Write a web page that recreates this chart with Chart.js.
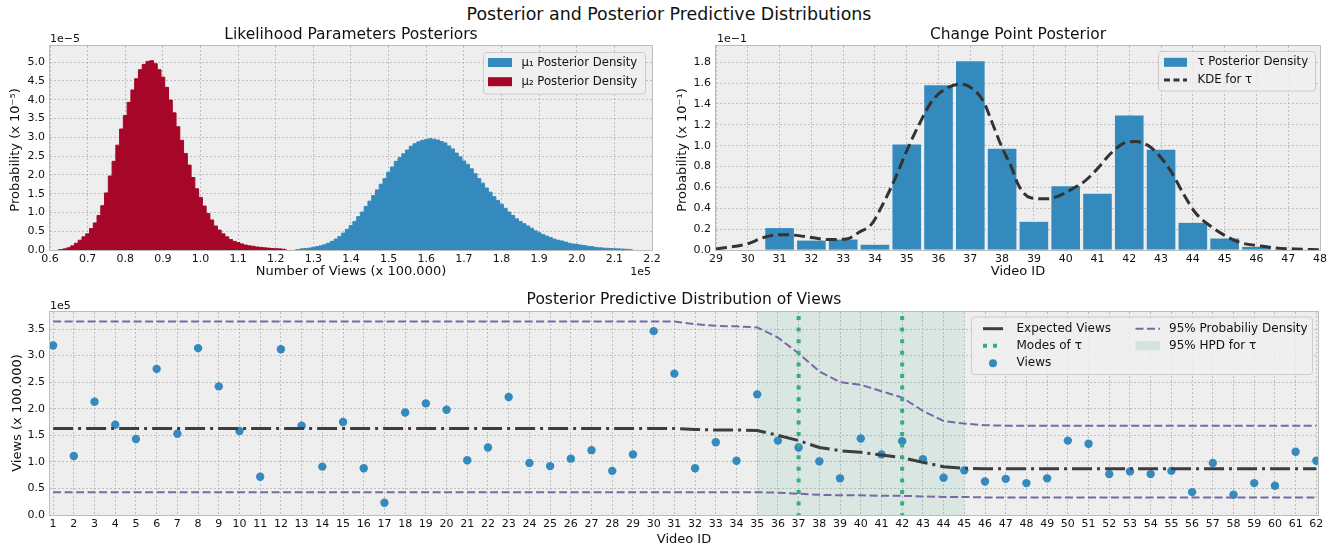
<!DOCTYPE html>
<html>
<head>
<meta charset="utf-8">
<script src="https://cdn.jsdelivr.net/npm/chart.js@4.4.1/dist/chart.umd.min.js"></script>
<style>
body { margin: 0; background: #fff; font-family: 'DejaVu Sans', sans-serif; }
#wrap { position: relative; width: 1338px; height: 550px; overflow: hidden; }
#wrap canvas { position: absolute; }
#title { position: absolute; top: 3px; left: 0; width: 1338px; text-align: center;
         font-size: 17.4px; line-height: 22px; color: #111; }
</style>
</head>
<body>
<div id="wrap">
  <div id="title">Posterior and Posterior Predictive Distributions</div>
  <canvas id="muChart" width="670" height="266" style="left:0;top:24px"></canvas>
  <canvas id="tauChart" width="668" height="266" style="left:670px;top:24px"></canvas>
  <canvas id="viewsChart" width="1338" height="260" style="left:0;top:290px"></canvas>
</div>
<script>
// ---- data: likelihood parameter posteriors (views in 1e5, density in 1e-5) ----
const mu1Bins = [1.25, 1.26, 1.27, 1.28, 1.29, 1.30, 1.31, 1.32, 1.33, 1.34, 1.35, 1.36, 1.37, 1.38, 1.39,
  1.40, 1.41, 1.42, 1.43, 1.44, 1.45, 1.46, 1.47, 1.48, 1.49, 1.50, 1.51, 1.52, 1.53, 1.54,
  1.55, 1.56, 1.57, 1.58, 1.59, 1.60, 1.61, 1.62, 1.63, 1.64, 1.65, 1.66, 1.67, 1.68, 1.69,
  1.70, 1.71, 1.72, 1.73, 1.74, 1.75, 1.76, 1.77, 1.78, 1.79, 1.80, 1.81, 1.82, 1.83, 1.84,
  1.85, 1.86, 1.87, 1.88, 1.89, 1.90, 1.91, 1.92, 1.93, 1.94, 1.95, 1.96, 1.97, 1.98, 1.99,
  2.00, 2.01, 2.02, 2.03, 2.04, 2.05, 2.06, 2.07, 2.08, 2.09, 2.10, 2.11, 2.12, 2.13, 2.14, 2.15];
const mu1Density = [0, 0.01, 0.03, 0.04, 0.05, 0.07, 0.09, 0.11, 0.14, 0.18, 0.23, 0.29, 0.36, 0.45, 0.55,
  0.65, 0.76, 0.89, 1.01, 1.16, 1.30, 1.45, 1.60, 1.75, 1.90, 2.07, 2.21, 2.36, 2.46, 2.56,
  2.66, 2.76, 2.83, 2.88, 2.92, 2.94, 2.96, 2.95, 2.93, 2.89, 2.85, 2.77, 2.69, 2.58, 2.48,
  2.37, 2.28, 2.16, 2.03, 1.90, 1.78, 1.65, 1.54, 1.42, 1.32, 1.22, 1.11, 1.01, 0.92, 0.83,
  0.76, 0.70, 0.64, 0.58, 0.51, 0.46, 0.41, 0.37, 0.33, 0.29, 0.26, 0.24, 0.21, 0.18, 0.16,
  0.15, 0.13, 0.12, 0.10, 0.09, 0.07, 0.06, 0.05, 0.045, 0.04, 0.035, 0.03, 0.025, 0.02, 0.015, 0];

const mu2Bins = [0.62, 0.63, 0.64, 0.65, 0.66, 0.67, 0.68, 0.69, 0.70, 0.71, 0.72, 0.73, 0.74, 0.75, 0.76,
  0.77, 0.78, 0.79, 0.80, 0.81, 0.82, 0.83, 0.84, 0.85, 0.86, 0.87, 0.88, 0.89, 0.90, 0.91,
  0.92, 0.93, 0.94, 0.95, 0.96, 0.97, 0.98, 0.99, 1.00, 1.01, 1.02, 1.03, 1.04, 1.05, 1.06,
  1.07, 1.08, 1.09, 1.10, 1.11, 1.12, 1.13, 1.14, 1.15, 1.16, 1.17, 1.18, 1.19, 1.20, 1.21, 1.22, 1.23];
const mu2Density = [0, 0.01, 0.03, 0.06, 0.11, 0.18, 0.26, 0.35, 0.43, 0.57, 0.72, 0.92, 1.18, 1.52, 1.97,
  2.36, 2.79, 3.22, 3.58, 3.93, 4.26, 4.56, 4.80, 4.94, 5.02, 5.04, 4.96, 4.80, 4.60, 4.33,
  3.99, 3.65, 3.28, 2.92, 2.57, 2.26, 1.93, 1.63, 1.40, 1.17, 0.97, 0.80, 0.64, 0.53, 0.43,
  0.35, 0.28, 0.23, 0.20, 0.16, 0.13, 0.11, 0.10, 0.08, 0.07, 0.06, 0.05, 0.04, 0.035, 0.03, 0.02, 0];

const muXTicks = [0.6, 0.7, 0.8, 0.9, 1.0, 1.1, 1.2, 1.3, 1.4, 1.5, 1.6, 1.7, 1.8, 1.9, 2.0, 2.1, 2.2];
const muYTicks = [0, 0.5, 1.0, 1.5, 2.0, 2.5, 3.0, 3.5, 4.0, 4.5, 5.0];

// ---- data: change point posterior (probability in 1e-1) ----
const tauIds = [31, 32, 33, 34, 35, 36, 37, 38, 39, 40, 41, 42, 43, 44, 45, 46, 47];
const tauProb = [0.21, 0.09, 0.10, 0.05, 1.01, 1.58, 1.81, 0.97, 0.27, 0.61, 0.54, 1.29, 0.96, 0.26, 0.11, 0.03, 0.005];
const kdeX = [29, 30, 30.5, 31, 31.4, 32, 32.5, 33.1, 33.5, 33.9, 34.2, 34.6, 35, 35.4, 35.8, 36.2, 36.7,
  37, 37.4, 37.7, 38, 38.3, 38.5, 38.9, 39.4, 39.8, 40.2, 40.6, 41, 41.4, 41.8, 42.2, 42.6, 42.9,
  43.3, 43.7, 44.1, 44.6, 45, 45.5, 46.1, 46.6, 47.2, 48];
const kdeY = [0.01, 0.06, 0.12, 0.147, 0.144, 0.12, 0.10, 0.105, 0.17, 0.25, 0.41, 0.66, 0.95, 1.21, 1.43, 1.54, 1.59,
  1.56, 1.43, 1.21, 0.98, 0.79, 0.63, 0.50, 0.49, 0.52, 0.585, 0.66, 0.78, 0.92, 1.02, 1.04, 1.0, 0.92,
  0.76, 0.54, 0.35, 0.22, 0.14, 0.07, 0.04, 0.02, 0.01, 0.003];
const tauXTicks = [29, 30, 31, 32, 33, 34, 35, 36, 37, 38, 39, 40, 41, 42, 43, 44, 45, 46, 47, 48];
const tauYTicks = [0, 0.2, 0.4, 0.6, 0.8, 1.0, 1.2, 1.4, 1.6, 1.8];

// ---- data: posterior predictive of views (views in 1e5) ----
const videoIds = [1, 2, 3, 4, 5, 6, 7, 8, 9, 10, 11, 12, 13, 14, 15, 16, 17, 18, 19, 20, 21,
  22, 23, 24, 25, 26, 27, 28, 29, 30, 31, 32, 33, 34, 35, 36, 37, 38, 39, 40, 41,
  42, 43, 44, 45, 46, 47, 48, 49, 50, 51, 52, 53, 54, 55, 56, 57, 58, 59, 60, 61, 62];
const views = [3.19, 1.11, 2.13, 1.70, 1.43, 2.75, 1.53, 3.14, 2.42, 1.58, 0.72, 3.12, 1.68, 0.91, 1.75, 0.88, 0.23, 1.93, 2.10, 1.98, 1.03,
  1.27, 2.22, 0.98, 0.92, 1.06, 1.22, 0.83, 1.14, 3.46, 2.66, 0.88, 1.37, 1.02, 2.27, 1.40, 1.27, 1.01, 0.69, 1.44, 1.14,
  1.39, 1.05, 0.70, 0.84, 0.63, 0.68, 0.60, 0.69, 1.40, 1.34, 0.77, 0.82, 0.77, 0.83, 0.43, 0.98, 0.38, 0.60, 0.55, 1.19, 1.02];
const expectedViews = [1.63, 1.63, 1.63, 1.63, 1.63, 1.63, 1.63, 1.63, 1.63, 1.63, 1.63, 1.63, 1.63, 1.63, 1.63, 1.63, 1.63, 1.63, 1.63, 1.63, 1.63,
  1.63, 1.63, 1.63, 1.63, 1.63, 1.63, 1.63, 1.63, 1.63, 1.63, 1.61, 1.60, 1.60, 1.59, 1.50, 1.40, 1.27, 1.21, 1.18, 1.13,
  1.08, 0.99, 0.91, 0.88, 0.87, 0.87, 0.87, 0.87, 0.87, 0.87, 0.87, 0.87, 0.87, 0.87, 0.87, 0.87, 0.87, 0.87, 0.87, 0.87, 0.87];
const upper95 = [3.64, 3.64, 3.64, 3.64, 3.64, 3.64, 3.64, 3.64, 3.64, 3.64, 3.64, 3.64, 3.64, 3.64, 3.64, 3.64, 3.64, 3.64, 3.64, 3.64, 3.64,
  3.64, 3.64, 3.64, 3.64, 3.64, 3.64, 3.64, 3.64, 3.64, 3.64, 3.59, 3.56, 3.55, 3.53, 3.34, 3.04, 2.70, 2.50, 2.45, 2.33,
  2.21, 1.96, 1.77, 1.72, 1.69, 1.68, 1.68, 1.68, 1.68, 1.68, 1.68, 1.68, 1.68, 1.68, 1.68, 1.68, 1.68, 1.68, 1.68, 1.68, 1.68];
const lower95 = [0.43, 0.43, 0.43, 0.43, 0.43, 0.43, 0.43, 0.43, 0.43, 0.43, 0.43, 0.43, 0.43, 0.43, 0.43, 0.43, 0.43, 0.43, 0.43, 0.43, 0.43,
  0.43, 0.43, 0.43, 0.43, 0.43, 0.43, 0.43, 0.43, 0.43, 0.43, 0.43, 0.43, 0.43, 0.43, 0.42, 0.40, 0.38, 0.37, 0.37, 0.36,
  0.36, 0.35, 0.34, 0.34, 0.33, 0.33, 0.33, 0.33, 0.33, 0.33, 0.33, 0.33, 0.33, 0.33, 0.33, 0.33, 0.33, 0.33, 0.33, 0.33, 0.33];
const tauModes = [37, 42];
const tauHpd = [35, 45];
const viewsYTicks = [0, 0.5, 1.0, 1.5, 2.0, 2.5, 3.0, 3.5];

// colours (matplotlib bmh)
const BLUE = '#348ABD', RED = '#A60628', PURPLE = '#7A68A6', GREEN = '#35AB8A', DARK = '#3d3d3d';
const FONT = "'DejaVu Sans', sans-serif";

function xy(xs, ys) {
  return xs.map((x, i) => ({ x: x, y: ys[i] }));
}

// background, spines, titles, extra text, custom legend, spans and vertical lines
const decor = {
  id: 'decor',
  beforeDraw(chart, args, o) {
    const { ctx, chartArea: a } = chart;
    ctx.save();
    ctx.fillStyle = '#eeeeee';
    ctx.fillRect(a.left, a.top, a.right - a.left, a.bottom - a.top);
    ctx.restore();
  },
  beforeDatasetsDraw(chart, args, o) {
    if (!o.span) return;
    const { ctx, chartArea: a } = chart;
    const x = chart.scales.x;
    const x0 = x.getPixelForValue(o.span[0]), x1 = x.getPixelForValue(o.span[1]);
    ctx.save();
    ctx.fillStyle = 'rgba(53,171,138,0.11)';
    ctx.fillRect(x0, a.top, x1 - x0, a.bottom - a.top);
    ctx.restore();
  },
  afterDatasetsDraw(chart, args, o) {
    if (!o.vlines) return;
    const { ctx, chartArea: a } = chart;
    const x = chart.scales.x;
    ctx.save();
    ctx.beginPath();
    ctx.rect(a.left, a.top, a.right - a.left, a.bottom - a.top);
    ctx.clip();
    ctx.strokeStyle = GREEN;
    ctx.lineWidth = 4;
    ctx.setLineDash([4, 7.6]);
    o.vlines.forEach(v => {
      const px = x.getPixelForValue(v);
      ctx.beginPath();
      ctx.moveTo(px, a.top + 4);
      ctx.lineTo(px, a.bottom);
      ctx.stroke();
    });
    ctx.restore();
  },
  afterDraw(chart, args, o) {
    const { ctx, chartArea: a } = chart;
    ctx.save();
    ctx.strokeStyle = '#bcbcbc';
    ctx.lineWidth = 1;
    ctx.strokeRect(a.left - 0.5, a.top - 0.5, a.right - a.left + 1, a.bottom - a.top + 1);

    ctx.fillStyle = '#111';
    ctx.textBaseline = 'middle';
    (o.texts || []).forEach(t => {
      ctx.font = t.size + 'px ' + FONT;
      ctx.textAlign = t.align || 'center';
      if (t.rotate) {
        ctx.save();
        ctx.translate(t.x, t.y);
        ctx.rotate(-Math.PI / 2);
        ctx.fillText(t.text, 0, 0);
        ctx.restore();
      } else {
        ctx.fillText(t.text, t.x, t.y);
      }
    });

    const L = o.legend;
    if (L) {
      ctx.beginPath();
      ctx.roundRect(L.box[0], L.box[1], L.box[2], L.box[3], 3);
      ctx.fillStyle = 'rgba(238,238,238,0.85)';
      ctx.fill();
      ctx.strokeStyle = '#cccccc';
      ctx.lineWidth = 1;
      ctx.stroke();
      L.items.forEach(it => {
        ctx.save();
        if (it.kind === 'patch') {
          ctx.fillStyle = it.color;
          ctx.fillRect(it.x0, it.y - 4.5, it.x1 - it.x0, 9);
        } else if (it.kind === 'line') {
          ctx.strokeStyle = it.color;
          ctx.lineWidth = it.width;
          ctx.setLineDash(it.dash || []);
          ctx.beginPath();
          ctx.moveTo(it.x0, it.y);
          ctx.lineTo(it.x1, it.y);
          ctx.stroke();
        } else if (it.kind === 'dot') {
          ctx.fillStyle = it.color;
          ctx.beginPath();
          ctx.arc((it.x0 + it.x1) / 2, it.y, 4, 0, Math.PI * 2);
          ctx.fill();
        }
        ctx.restore();
        ctx.fillStyle = '#111';
        ctx.font = L.size + 'px ' + FONT;
        ctx.textAlign = 'left';
        ctx.fillText(it.label, it.tx, it.y);
      });
    }
    ctx.restore();
  }
};

function tickList(list) {
  return scale => { scale.ticks = list.map(v => ({ value: v })); };
}

function axis(opts) {
  return {
    type: 'linear',
    min: opts.min,
    max: opts.max,
    offset: false,
    afterBuildTicks: tickList(opts.ticks),
    afterFit: opts.fit,
    grid: { color: '#b2b2b2', lineWidth: 0.8, drawTicks: false, offset: false },
    border: { display: false, dash: [2, 2] },
    ticks: {
      autoSkip: false, maxRotation: 0, minRotation: 0,
      padding: opts.pad, color: '#111',
      font: { family: FONT, size: 11 },
      callback: opts.fmt
    }
  };
}

const fmt1 = v => v.toFixed(1);

// top-left chart
new Chart(document.getElementById('muChart'), {
  type: 'line',
  data: {
    datasets: [
      {
        label: 'mu1', data: xy(mu1Bins, mu1Density), stepped: 'middle',
        fill: 'origin', backgroundColor: BLUE, borderColor: BLUE, borderWidth: 1, pointRadius: 0
      },
      {
        label: 'mu2', data: xy(mu2Bins, mu2Density), stepped: 'middle',
        fill: 'origin', backgroundColor: RED, borderColor: RED, borderWidth: 1, pointRadius: 0
      }
    ]
  },
  options: {
    responsive: false,
    animation: false,
    layout: { padding: { left: 0, right: 18, top: 22, bottom: 0 } },
    scales: {
      x: axis({ min: 0.6, max: 2.2, ticks: muXTicks, fmt: fmt1, pad: 3, fit: s => { s.height = 40; } }),
      y: axis({ min: 0, max: 5.43, ticks: muYTicks, fmt: fmt1, pad: 5, fit: s => { s.width = 50; } })
    },
    plugins: {
      legend: { display: false },
      tooltip: { enabled: false },
      decor: {
        texts: [
          { text: 'Likelihood Parameters Posteriors', x: 351, y: 11, size: 15.5 },
          { text: 'Number of Views (x 100.000)', x: 351, y: 248, size: 13 },
          { text: 'Probability (x 10⁻⁵)', x: 16, y: 126, size: 13, rotate: true },
          { text: '1e−5', x: 50, y: 15, size: 11, align: 'left' },
          { text: '1e5', x: 651, y: 248, size: 11, align: 'right' }
        ],
        legend: {
          size: 11.7,
          box: [483.5, 28.5, 162, 41.5],
          items: [
            { kind: 'patch', color: BLUE, x0: 488, x1: 512, y: 38.5, tx: 521.5, label: 'μ₁ Posterior Density' },
            { kind: 'patch', color: RED, x0: 488, x1: 512, y: 57.7, tx: 521.5, label: 'μ₂ Posterior Density' }
          ]
        }
      }
    }
  },
  plugins: [decor]
});

// top-right chart
new Chart(document.getElementById('tauChart'), {
  type: 'bar',
  data: {
    datasets: [
      {
        type: 'line', label: 'KDE', data: xy(kdeX, kdeY), borderColor: '#333333',
        borderWidth: 3, borderDash: [11, 5], pointRadius: 0, cubicInterpolationMode: 'monotone', fill: false
      },
      {
        type: 'bar', label: 'tau', data: xy(tauIds, tauProb), backgroundColor: BLUE,
        barPercentage: 0.9, categoryPercentage: 1.0, borderWidth: 0
      }
    ]
  },
  options: {
    responsive: false,
    animation: false,
    layout: { padding: { left: 0, right: 18, top: 22, bottom: 0 } },
    scales: {
      x: axis({ min: 29, max: 48, ticks: tauXTicks, fmt: v => String(v), pad: 3, fit: s => { s.height = 40; } }),
      y: axis({ min: 0, max: 1.955, ticks: tauYTicks, fmt: fmt1, pad: 5, fit: s => { s.width = 46; } })
    },
    plugins: {
      legend: { display: false },
      tooltip: { enabled: false },
      decor: {
        texts: [
          { text: 'Change Point Posterior', x: 348, y: 11, size: 15.5 },
          { text: 'Video ID', x: 348, y: 248, size: 13 },
          { text: 'Probability (x 10⁻¹)', x: 13, y: 126, size: 13, rotate: true },
          { text: '1e−1', x: 47, y: 15, size: 11, align: 'left' }
        ],
        legend: {
          size: 11.7,
          box: [488.5, 27.5, 157, 39.5],
          items: [
            { kind: 'patch', color: BLUE, x0: 494, x1: 517, y: 38.3, tx: 527.5, label: 'τ Posterior Density' },
            { kind: 'line', color: '#333333', width: 3, dash: [6, 3.5], x0: 494, x1: 517, y: 56, tx: 527.5, label: 'KDE for τ' }
          ]
        }
      }
    }
  },
  plugins: [decor]
});

// bottom chart
new Chart(document.getElementById('viewsChart'), {
  type: 'line',
  data: {
    datasets: [
      {
        label: 'upper', data: xy(videoIds, upper95), borderColor: PURPLE, borderWidth: 2,
        borderDash: [8, 3.5], pointRadius: 0, fill: false, tension: 0
      },
      {
        label: 'lower', data: xy(videoIds, lower95), borderColor: PURPLE, borderWidth: 2,
        borderDash: [8, 3.5], pointRadius: 0, fill: false, tension: 0
      },
      {
        label: 'expected', data: xy(videoIds, expectedViews), borderColor: DARK, borderWidth: 3,
        borderDash: [20, 5, 3, 5], pointRadius: 0, fill: false, tension: 0
      },
      {
        label: 'views', data: xy(videoIds, views), showLine: false, pointRadius: 4.2,
        pointBackgroundColor: BLUE, pointBorderWidth: 0, backgroundColor: BLUE, borderColor: BLUE
      }
    ]
  },
  options: {
    responsive: false,
    animation: false,
    layout: { padding: { left: 0, right: 20, top: 22, bottom: 0 } },
    scales: {
      x: axis({ min: 0.85, max: 62.08, ticks: videoIds, fmt: v => String(v), pad: 3, fit: s => { s.height = 35; } }),
      y: axis({ min: 0, max: 3.82, ticks: viewsYTicks, fmt: fmt1, pad: 5, fit: s => { s.width = 50; } })
    },
    plugins: {
      legend: { display: false },
      tooltip: { enabled: false },
      decor: {
        span: tauHpd,
        vlines: tauModes,
        texts: [
          { text: 'Posterior Predictive Distribution of Views', x: 684, y: 10, size: 15.5 },
          { text: 'Video ID', x: 684, y: 250, size: 13 },
          { text: 'Views (x 100.000)', x: 18, y: 123, size: 13, rotate: true },
          { text: '1e5', x: 50, y: 16, size: 11, align: 'left' }
        ],
        legend: {
          size: 12,
          box: [971.5, 27, 341, 57.5],
          items: [
            { kind: 'line', color: DARK, width: 3, x0: 983, x1: 1003, y: 38.7, tx: 1016.5, label: 'Expected Views' },
            { kind: 'line', color: GREEN, width: 4, dash: [4, 6], x0: 983, x1: 1003, y: 55.7, tx: 1016.5, label: 'Modes of τ' },
            { kind: 'dot', color: BLUE, x0: 983, x1: 1003, y: 73.3, tx: 1016.5, label: 'Views' },
            { kind: 'line', color: PURPLE, width: 2, dash: [8, 3.5], x0: 1135.5, x1: 1160, y: 38.7, tx: 1169, label: '95% Probabiliy Density' },
            { kind: 'patch', color: 'rgba(53,171,138,0.15)', x0: 1135.5, x1: 1160, y: 55.7, tx: 1169, label: '95% HPD for τ' }
          ]
        }
      }
    }
  },
  plugins: [decor]
});
</script>
</body>
</html>
